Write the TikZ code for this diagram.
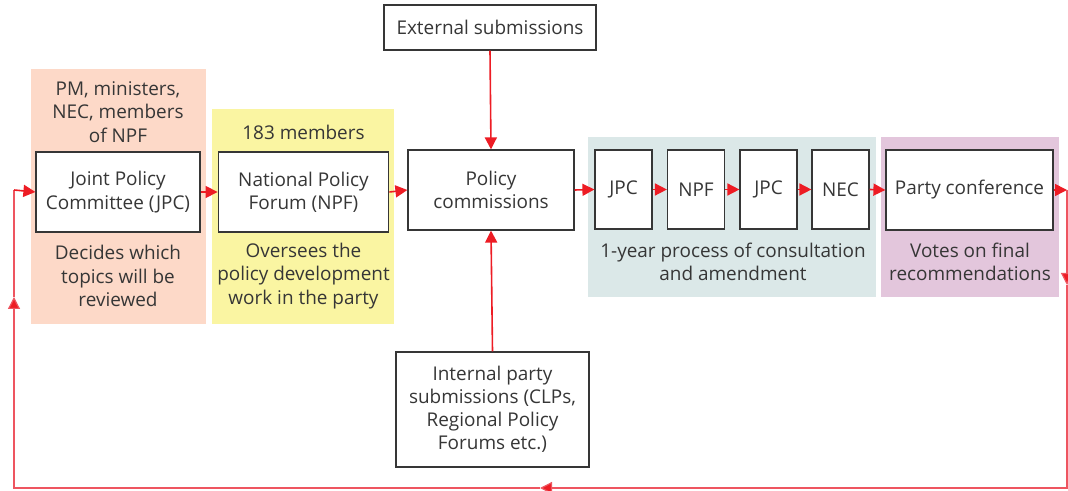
\documentclass[tikz,border=0pt]{standalone}
\usepackage{fontspec}
\setmainfont{Open Sans}
\usetikzlibrary{arrows.meta}
\definecolor{arrowred}{HTML}{ED1C24}
\definecolor{looped}{HTML}{EE5560}
\definecolor{peach}{HTML}{FDD9C8}
\definecolor{lemon}{HTML}{FAF5A2}
\definecolor{mist}{HTML}{DBE8E8}
\definecolor{mauve}{HTML}{E3C6DC}
\definecolor{ink}{HTML}{363636}

\tikzset{
  stagebox/.style={draw=ink, line width=0.9pt, fill=white, text=ink, align=center,
    inner sep=0pt, minimum height=60pt},
  note/.style={text=ink, align=center, inner sep=0pt},
  flow/.style={draw=arrowred, line width=1.2pt, -{Triangle[length=9pt, width=9pt]}},
  loopline/.style={draw=looped, line width=0.9pt},
  looparrow/.style={loopline, -{Triangle[length=9pt, width=9pt, fill=arrowred]}}
}

\begin{document}
\begin{tikzpicture}[x=0.75pt, y=-0.75pt, font=\fontsize{14.2}{17.4}\selectfont]
\useasboundingbox (0,0) rectangle (1068,491);
% coloured panels
\fill [peach] (31,69) rectangle (206,324);
\fill [lemon] (212,109) rectangle (394,324);
\fill [mist] (588,137) rectangle (876,297);
\fill [mauve] (881,137) rectangle (1059,297);

% boxes
\node [stagebox, minimum width=123pt] (jpc) at (118,192) {Joint Policy\\Committee (JPC)};
\node [stagebox, minimum width=128pt] (npf) at (303.5,192) {National Policy\\Forum (NPF)};
\node [stagebox, minimum width=124.5pt] (pc) at (491,190) {Policy\\commissions};
\node [stagebox, minimum width=159pt, minimum height=33.75pt] (ext) at (490,27.5) {External submissions};
\node [stagebox, minimum width=144.75pt, minimum height=86.25pt] (int) at (492.5,409.5)
  {Internal party\\submissions (CLPs,\\Regional Policy\\Forums etc.)};
\node [stagebox, minimum width=42.75pt, minimum height=59.25pt] (jpc2) at (623.5,189.5) {JPC};
\node [stagebox, minimum width=42.75pt, minimum height=59.25pt] (npf2) at (696,189.5) {NPF};
\node [stagebox, minimum width=42.75pt, minimum height=59.25pt] (jpc3) at (768.5,189.5) {JPC};
\node [stagebox, minimum width=42.75pt, minimum height=59.25pt] (nec) at (840.5,189.5) {NEC};
\node [stagebox, minimum width=125.25pt] (conf) at (969.5,190) {Party conference};

% notes
\node [note] (jpcmembers) at (118,112) {PM, ministers,\\NEC, members\\of NPF};
\node [note] (jpcrole) at (118,276) {Decides which\\topics will be\\reviewed};
\node [note] (npfmembers) at (303.5,132) {183 members};
\node [note] (npfrole) at (303.5,276) {Oversees the\\policy development\\work in the party};
\node [note] (process) at (733,261.5) {1-year process of consultation\\and amendment};
\node [note] (confrole) at (970,261.5) {Votes on final\\recommendations};

% main flow
\draw [flow] (jpc.east) -- (npf.west);
\draw [flow] (npf.east) -- (pc.west);
\draw [flow] (pc.east) -- (jpc2.west);
\draw [flow] (jpc2.east) -- (npf2.west);
\draw [flow] (npf2.east) -- (jpc3.west);
\draw [flow] (jpc3.east) -- (nec.west);
\draw [flow] (nec.east) -- (conf.west);
\draw [flow] (ext.south) -- (pc.north);
\draw [flow] (int.north) -- (pc.south);

% feedback loop
\coordinate (r1) at (1067,190);
\coordinate (r2) at (1067,285);
\coordinate (r3) at (1067,488);
\coordinate (b1) at (540,488);
\coordinate (l1) at (14,488);
\coordinate (l2) at (14,297);
\coordinate (l3) at (14,190);
\draw [flow] (conf.east) -- (r1);
\draw [looparrow] (r1) -- (r2);
\draw [looparrow] (r2) -- (r3) -- (b1);
\draw [looparrow] (b1) -- (l1) -- (l2);
\draw [loopline] (l2) -- (l3);
\draw [flow] (l3) -- (jpc.west);
\end{tikzpicture}
\end{document}
